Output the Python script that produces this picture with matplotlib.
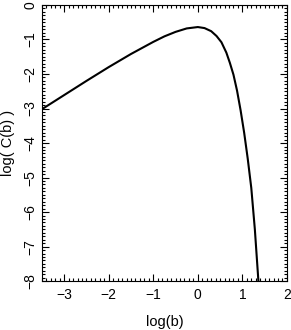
import matplotlib
matplotlib.use('Agg')
import matplotlib.pyplot as plt
from matplotlib.ticker import MultipleLocator

plt.rcParams['font.family'] = ['Liberation Sans', 'DejaVu Sans']

# кривая log C(b) от log b
logb = [-3.5, -3.0, -2.5, -2.0, -1.5, -1.0, -0.75, -0.5, -0.25, 0.0,
        0.15, 0.30, 0.42, 0.53, 0.64, 0.72, 0.80, 0.88, 0.96, 1.04,
        1.12, 1.20, 1.28, 1.36]
logC = [-3.02, -2.61, -2.20, -1.80, -1.42, -1.07, -0.91, -0.78, -0.68, -0.64,
        -0.67, -0.76, -0.90, -1.08, -1.38, -1.68, -2.02, -2.48, -3.05, -3.70,
        -4.45, -5.30, -6.50, -8.0]

fig = plt.figure(figsize=(2.91, 3.30), dpi=100)
ax = fig.add_axes([0.144, 0.148, 0.842, 0.837])
ax.plot(logb, logC, color='black', lw=1.5, solid_joinstyle='round')
ax.set_xlim(-3.5, 2)
ax.set_ylim(-8, 0)
ax.xaxis.set_major_locator(MultipleLocator(1))
ax.xaxis.set_minor_locator(MultipleLocator(0.1))
ax.yaxis.set_major_locator(MultipleLocator(1))
ax.yaxis.set_minor_locator(MultipleLocator(0.1))
ax.tick_params(which='both', direction='in', top=True, right=True, labelsize=10, width=0.8)
ax.tick_params(which='major', length=5)
ax.tick_params(which='minor', length=2.5)
ax.tick_params(axis='x', pad=5)
ax.tick_params(axis='y', pad=3)
for t in ax.get_yticklabels():
    t.set_rotation(90)
    t.set_va('center')
for s in ax.spines.values():
    s.set_linewidth(0.8)
ax.set_xlabel('log(b)', fontsize=10.5, labelpad=9)
ax.set_ylabel('log( C(b) )', fontsize=10.5, labelpad=6)
fig.savefig('out.png', dpi=100)
